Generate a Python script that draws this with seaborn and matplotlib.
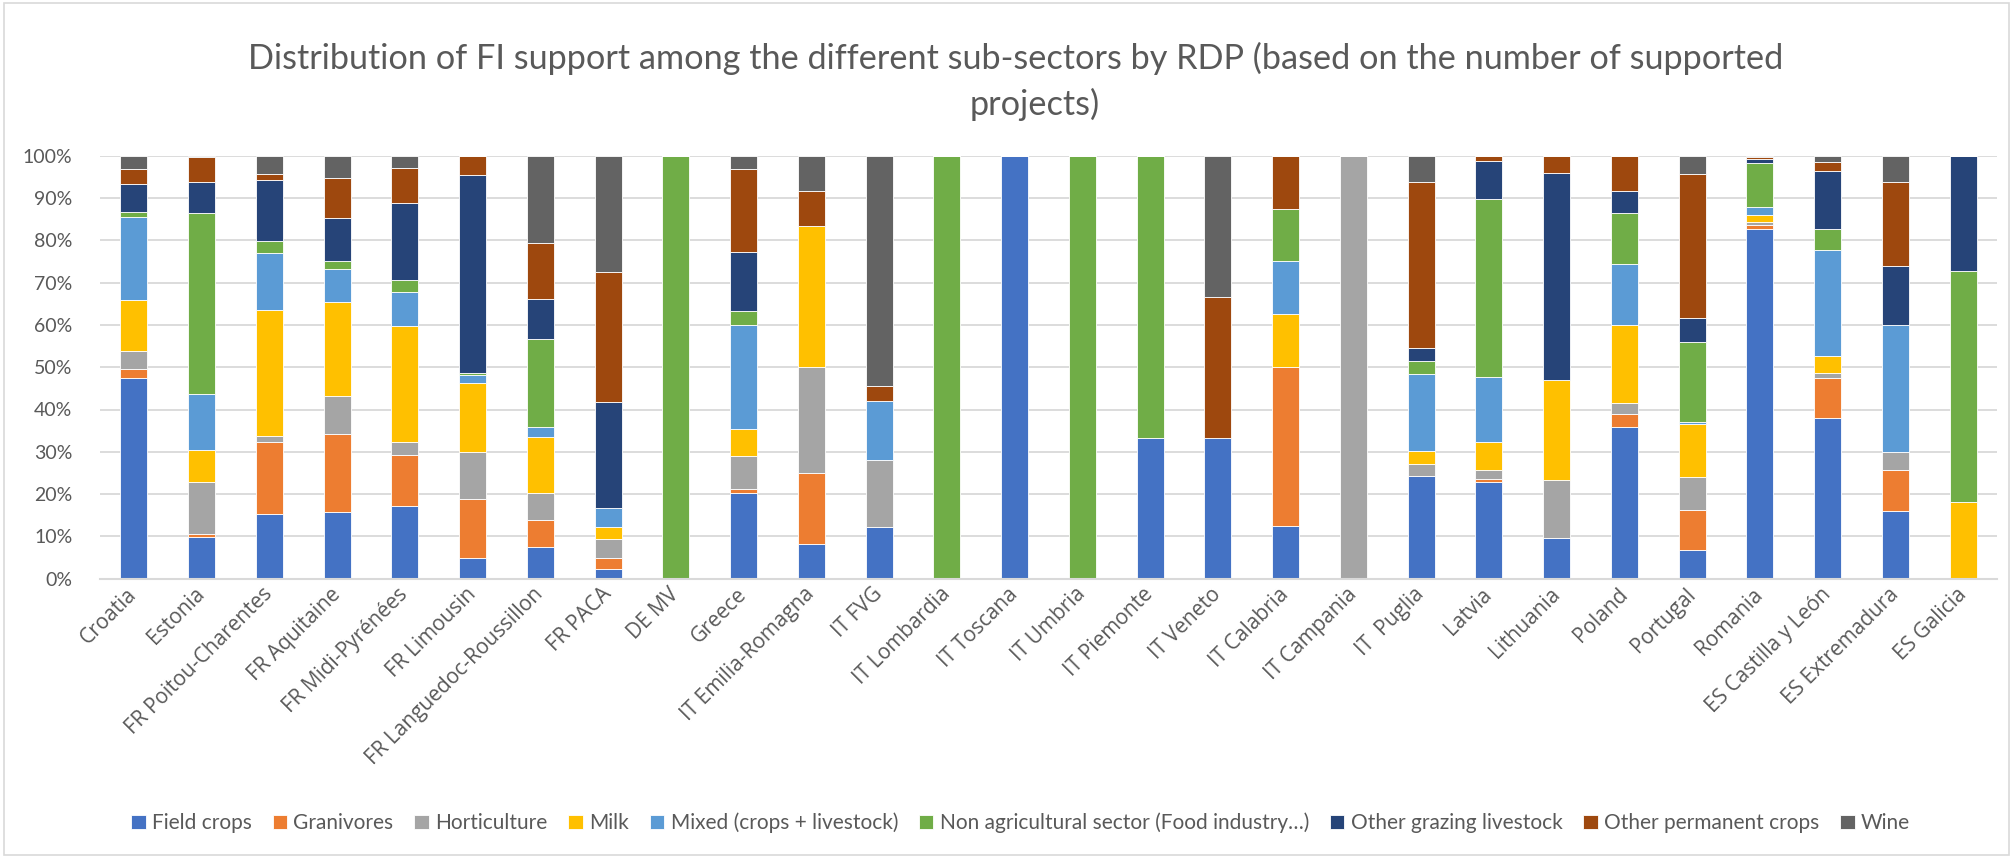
import numpy as np
import pandas as pd
import matplotlib
matplotlib.use("Agg")
import matplotlib.pyplot as plt
import seaborn as sns
from matplotlib.patches import Rectangle

regions = [
    "Croatia", "Estonia", "FR Poitou-Charentes", "FR Aquitaine", "FR Midi-Pyrénées",
    "FR Limousin", "FR Languedoc-Roussillon", "FR PACA", "DE MV", "Greece",
    "IT Emilia-Romagna", "IT FVG", "IT Lombardia", "IT Toscana", "IT Umbria",
    "IT Piemonte", "IT Veneto", "IT Calabria", "IT Campania", "IT  Puglia",
    "Latvia", "Lithuania", "Poland", "Portugal", "Romania",
    "ES Castilla y León", "ES Extremadura", "ES Galicia",
]

# Share of supported projects per sub-sector (%)
field_crops = [47.4, 9.9, 15.4, 15.8, 17.1, 5.0, 7.6, 2.4, 0, 20.3, 8.3, 12.2, 0, 100, 0, 33.3, 33.3, 12.5, 0, 24.2, 22.8, 9.7, 35.8, 6.8, 82.7, 38.1, 15.9, 0]
granivores = [2.2, 0.6, 16.8, 18.5, 12.2, 13.8, 6.3, 2.5, 0, 0.8, 16.7, 0, 0, 0, 0, 0, 0, 37.5, 0, 0, 0.8, 0, 3.2, 9.4, 1.0, 9.3, 9.9, 0]
horticulture = [4.2, 12.4, 1.6, 9.0, 2.9, 11.3, 6.4, 4.4, 0, 7.9, 25.0, 15.8, 0, 0, 0, 0, 0, 0, 100, 3.0, 2.2, 13.7, 2.5, 7.8, 0.6, 1.3, 4.1, 0]
milk = [12.0, 7.5, 29.7, 22.1, 27.5, 16.1, 13.3, 2.9, 0, 6.5, 33.3, 0, 0, 0, 0, 0, 0, 12.5, 0, 3.0, 6.5, 23.6, 18.4, 12.6, 1.7, 3.9, 0, 18.2]
mixed = [19.7, 13.3, 13.6, 7.7, 8.0, 2.1, 2.2, 4.5, 0, 24.4, 0, 14.0, 0, 0, 0, 0, 0, 12.5, 0, 18.2, 15.5, 0, 14.4, 0.5, 1.9, 25.0, 30.0, 0]
non_agricultural = [1.2, 42.8, 2.8, 2.0, 3.0, 0.3, 20.9, 0, 100, 3.3, 0, 0, 100, 0, 100, 66.7, 0, 12.5, 0, 3.0, 41.9, 0, 12.1, 18.9, 10.4, 5.0, 0, 54.5]
other_grazing = [6.7, 7.4, 14.3, 10.1, 18.0, 46.9, 9.5, 25.1, 0, 14.1, 0, 0, 0, 0, 0, 0, 0, 0, 0, 3.0, 9.0, 48.9, 5.3, 5.6, 0.9, 13.9, 14.0, 27.3]
other_permanent = [3.4, 5.7, 1.4, 9.6, 8.5, 4.6, 13.1, 30.6, 0, 19.5, 8.3, 3.5, 0, 0, 0, 0, 33.3, 12.5, 0, 39.4, 1.3, 4.1, 8.3, 34.1, 0.6, 1.9, 20.0, 0]
wine = [3.2, 0.4, 4.4, 5.2, 2.8, 0, 20.7, 27.6, 0, 3.2, 8.3, 54.5, 0, 0, 0, 0, 33.3, 0, 0, 6.1, 0, 0, 0, 4.3, 0.2, 1.6, 6.1, 0]

sectors = [
    "Field crops", "Granivores", "Horticulture", "Milk", "Mixed (crops + livestock)",
    "Non agricultural sector (Food industry…)", "Other grazing livestock",
    "Other permanent crops", "Wine",
]
series = [field_crops, granivores, horticulture, milk, mixed,
          non_agricultural, other_grazing, other_permanent, wine]
colors = ["#4472C4", "#ED7D31", "#A5A5A5", "#FFC000", "#5B9BD5",
          "#70AD47", "#264478", "#9E480E", "#636363"]

values = np.array(series, dtype=float)
values = values / values.sum(axis=0) * 100.0  # 100% stacked

sns.set_theme(style="white")
plt.rcParams["font.family"] = ["Lato", "DejaVu Sans"]
text_color = "#595959"
grid_color = "#D9D9D9"

fig = plt.figure(figsize=(20.13, 8.58), dpi=100)
ax = fig.add_axes([100 / 2013, 1 - 578.7 / 858, 1897 / 2013, 423 / 858])

bottom = np.zeros(len(regions))
for name, vals, col in zip(sectors, values, colors):
    df = pd.DataFrame({"region": regions, "share": vals})
    sns.barplot(data=df, x="region", y="share", order=regions, color=col,
                width=0.4, bottom=bottom, errorbar=None, ax=ax, label=name,
                edgecolor="white", linewidth=0.6, saturation=1)
    bottom = bottom + vals

ax.set_xlim(-0.5, len(regions) - 0.5)
ax.set_ylim(0, 100)
ax.set_yticks(np.arange(0, 101, 10))
ax.set_yticklabels([f"{v}%" for v in range(0, 101, 10)])
ax.yaxis.grid(True, color=grid_color, linewidth=1.3)
ax.set_axisbelow(True)
for side in ["left", "right", "top"]:
    ax.spines[side].set_visible(False)
ax.spines["bottom"].set_color(grid_color)
ax.spines["bottom"].set_linewidth(1.5)
ax.tick_params(axis="both", length=0, colors=text_color, labelsize=14)
ax.tick_params(axis="y", pad=20)
ax.tick_params(axis="x", pad=9)
ax.set_xlabel("")
ax.set_ylabel("")
for lbl in ax.get_xticklabels():
    lbl.set_rotation(45)
    lbl.set_ha("right")
    lbl.set_va("center")
    lbl.set_rotation_mode("anchor")
    lbl.set_family(["Open Sans", "DejaVu Sans"])
    lbl.set_fontsize(15)
    lbl.set_color(text_color)

if ax.get_legend() is not None:
    ax.get_legend().remove()

handles, labels = ax.get_legend_handles_labels()
fig.legend(handles, labels, loc="center", bbox_to_anchor=(0.507, 1 - 823 / 858),
           ncol=9, frameon=False, fontsize=15, labelcolor=text_color,
           handlelength=0.7, handleheight=0.7, handletextpad=0.3,
           columnspacing=1.0)

fig.text(0.5045, 1 - 58 / 858,
         "Distribution of FI support among the different sub-sectors by RDP (based on the number of supported",
         ha="center", va="center", fontsize=24.7, color=text_color)
fig.text(0.514, 1 - 104 / 858, "projects)", ha="center", va="center",
         fontsize=24.7, color=text_color)

fig.patches.append(Rectangle((4 / 2013, 3 / 858), 2005 / 2013, 852 / 858,
                             transform=fig.transFigure, fill=False,
                             edgecolor=grid_color, linewidth=1.2))

fig.savefig("out.png", dpi=100)
